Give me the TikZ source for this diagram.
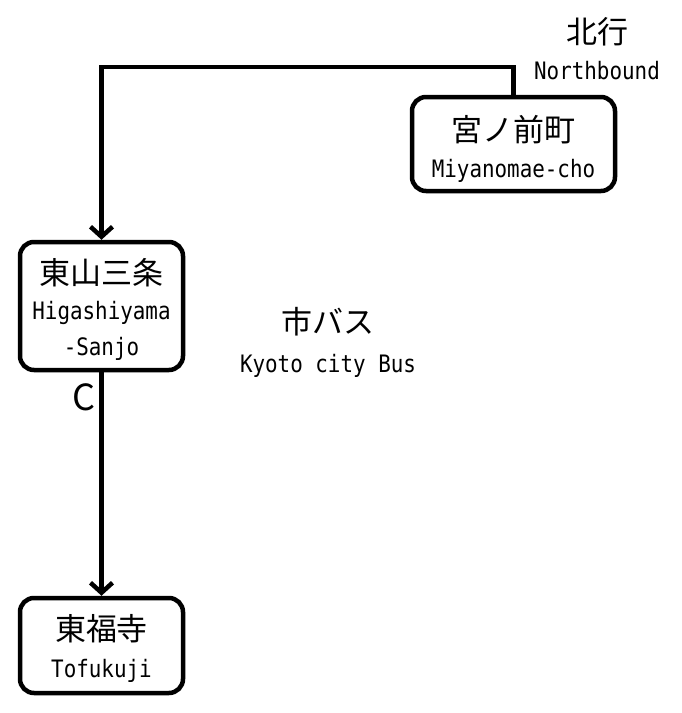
\documentclass[tikz,border=0pt]{standalone}
\usepackage{fontspec}
\newfontfamily\cjk{Noto Sans CJK JP}
\newfontfamily\lat[FakeStretch=0.87]{DejaVu Sans Mono}
\usetikzlibrary{arrows.meta}
\tikzset{station/.style={draw, line width=4.5pt, rounded corners=14pt, fill=white, inner sep=0pt}}
\tikzset{jp/.style={font=\cjk\fontsize{31}{31}\selectfont, inner sep=0pt, anchor=center}}
\tikzset{en/.style={font=\lat\fontsize{24}{24}\selectfont, inner sep=0pt, anchor=base}}
\tikzset{route/.style={line width=4.5pt, -{Straight Barb[length=10pt,width=22pt]}}}

\begin{document}
\begin{tikzpicture}[x=1pt,y=-1pt]
\useasboundingbox (0,0) rectangle (681,713);
% stations
\node[station, minimum width=203pt, minimum height=94pt] (miya) at (513.5,144) {};
\node[station, minimum width=163pt, minimum height=128pt] (higa) at (101.5,306) {};
\node[station, minimum width=163pt, minimum height=95pt] (tofu) at (101.5,645.5) {};
% route
\coordinate (corner) at (101.5,67);
\draw[route] (miya.north) |- (corner) -- (higa.north);
\draw[route] (higa.south) -- (tofu.north);
% labels
\node[jp] (north) at (597,32) {北行};
\node[en] (northE) at (597,79) {Northbound};
\node[jp] (miyaJ) at (513.5,130) {宮ノ前町};
\node[en] (miyaE) at (513.5,177) {Miyanomae-cho};
\node[jp] (higaJ) at (101.5,273) {東山三条};
\node[en] (higaE) at (101.5,319) {Higashiyama};
\node[en] (higaS) at (101.5,355) {-Sanjo};
\node[jp] (bus) at (328,322) {市バス};
\node[en] (busE) at (328,372) {Kyoto city Bus};
\node[jp] (tofuJ) at (101.5,629) {東福寺};
\node[en] (tofuE) at (101.5,677) {Tofukuji};
\node[jp, font=\cjk\fontsize{36}{36}\selectfont] (line) at (83.5,397) {C};
\end{tikzpicture}
\end{document}
